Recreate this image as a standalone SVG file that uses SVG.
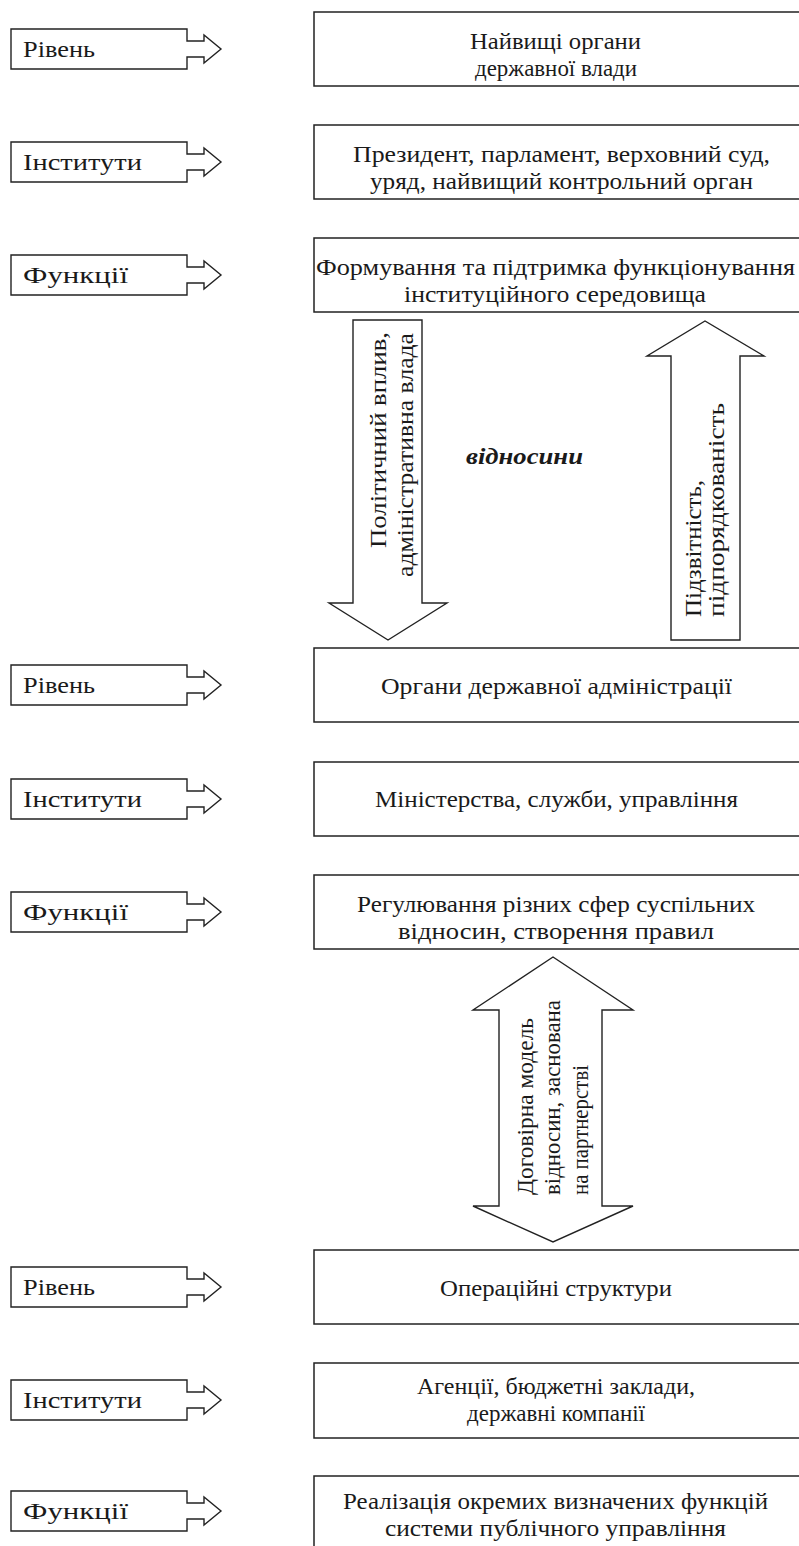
<svg xmlns="http://www.w3.org/2000/svg" width="799" height="1546" viewBox="0 0 799 1546">
<style>
.bx{fill:#fff;stroke:#222;stroke-width:1.5}
.ar{fill:#fff;stroke:#222;stroke-width:1.4;stroke-linejoin:miter}
.t{font-family:'Liberation Serif','Times New Roman',serif;font-size:23px;fill:#1a1a1a}
.bi{font-weight:bold;font-style:italic}
</style>
<defs>
<path id="lbl" class="ar" d="M11,-20 H187 V-8 H204 V-14 L221,0 L204,14 V8 H187 V20 H11 Z"/>
</defs>
<rect width="799" height="1546" fill="#fff"/>
<g id="connectors">
<path id="arrow-down" class="ar" d="M353,320 H422 V603 H447 L388,640 L329,603 H353 Z"/>
<path id="arrow-up" class="ar" d="M671,640 V356 H647 L705,321 L764,356 H740 V640 Z"/>
<path id="arrow-both" class="ar" d="M553,957 L633,1010 H602 V1206 H633 L553,1242 L473,1206 H499 V1010 H473 Z"/>
<text class="t" transform="translate(386,548) rotate(-90)" textLength="216" lengthAdjust="spacingAndGlyphs">Політичний вплив,</text>
<text class="t" transform="translate(413,577) rotate(-90)" textLength="244" lengthAdjust="spacingAndGlyphs">адміністративна влада</text>
<text class="t" transform="translate(701,617) rotate(-90)" textLength="137" lengthAdjust="spacingAndGlyphs">Підзвітність,</text>
<text class="t" transform="translate(724,617) rotate(-90)" textLength="214" lengthAdjust="spacingAndGlyphs">підпорядкованість</text>
<text class="t" transform="translate(533,1195) rotate(-90)" textLength="177" lengthAdjust="spacingAndGlyphs">Договірна модель</text>
<text class="t" transform="translate(560,1195) rotate(-90)" textLength="195" lengthAdjust="spacingAndGlyphs">відносин, заснована</text>
<text class="t" transform="translate(588,1195) rotate(-90)" textLength="130" lengthAdjust="spacingAndGlyphs">на партнерстві</text>
<text class="t bi" x="466" y="464" textLength="117" lengthAdjust="spacingAndGlyphs">відносини</text>
</g>

<g id="l1"><use href="#lbl" y="49"/><text class="t" x="23" y="57" textLength="72" lengthAdjust="spacingAndGlyphs">Рівень</text></g>
<g id="n1"><rect class="bx" x="314" y="12" width="490" height="74"/><text class="t" x="470" y="49" textLength="171" lengthAdjust="spacingAndGlyphs">Найвищі органи</text><text class="t" x="475" y="76" textLength="162" lengthAdjust="spacingAndGlyphs">державної влади</text></g>

<g id="l2"><use href="#lbl" y="162"/><text class="t" x="23" y="170" textLength="119" lengthAdjust="spacingAndGlyphs">Інститути</text></g>
<g id="n2"><rect class="bx" x="314" y="125" width="490" height="74"/><text class="t" x="353" y="162" textLength="417" lengthAdjust="spacingAndGlyphs">Президент, парламент, верховний суд,</text><text class="t" x="370" y="189" textLength="383" lengthAdjust="spacingAndGlyphs">уряд, найвищий контрольний орган</text></g>

<g id="l3"><use href="#lbl" y="275"/><text class="t" x="23" y="283" textLength="105" lengthAdjust="spacingAndGlyphs">Функції</text></g>
<g id="n3"><rect class="bx" x="314" y="238" width="490" height="74"/><text class="t" x="316" y="275" textLength="479" lengthAdjust="spacingAndGlyphs">Формування та підтримка функціонування</text><text class="t" x="404" y="302" textLength="302" lengthAdjust="spacingAndGlyphs">інституційного середовища</text></g>

<g id="l4"><use href="#lbl" y="685"/><text class="t" x="23" y="693" textLength="72" lengthAdjust="spacingAndGlyphs">Рівень</text></g>
<g id="n4"><rect class="bx" x="314" y="648" width="490" height="74"/><text class="t" x="381" y="694" textLength="351" lengthAdjust="spacingAndGlyphs">Органи державної адміністрації</text></g>

<g id="l5"><use href="#lbl" y="799"/><text class="t" x="23" y="807" textLength="119" lengthAdjust="spacingAndGlyphs">Інститути</text></g>
<g id="n5"><rect class="bx" x="314" y="762" width="490" height="74"/><text class="t" x="375" y="807" textLength="363" lengthAdjust="spacingAndGlyphs">Міністерства, служби, управління</text></g>

<g id="l6"><use href="#lbl" y="912"/><text class="t" x="23" y="920" textLength="105" lengthAdjust="spacingAndGlyphs">Функції</text></g>
<g id="n6"><rect class="bx" x="314" y="875" width="490" height="74"/><text class="t" x="357" y="912" textLength="398" lengthAdjust="spacingAndGlyphs">Регулювання різних сфер суспільних</text><text class="t" x="398" y="939" textLength="316" lengthAdjust="spacingAndGlyphs">відносин, створення правил</text></g>

<g id="l7"><use href="#lbl" y="1287"/><text class="t" x="23" y="1295" textLength="72" lengthAdjust="spacingAndGlyphs">Рівень</text></g>
<g id="n7"><rect class="bx" x="314" y="1250" width="490" height="74"/><text class="t" x="440" y="1296" textLength="232" lengthAdjust="spacingAndGlyphs">Операційні структури</text></g>

<g id="l8"><use href="#lbl" y="1400"/><text class="t" x="23" y="1408" textLength="119" lengthAdjust="spacingAndGlyphs">Інститути</text></g>
<g id="n8"><rect class="bx" x="314" y="1363" width="490" height="75"/><text class="t" x="417" y="1394" textLength="278" lengthAdjust="spacingAndGlyphs">Агенції, бюджетні заклади,</text><text class="t" x="467" y="1421" textLength="178" lengthAdjust="spacingAndGlyphs">державні компанії</text></g>

<g id="l9"><use href="#lbl" y="1511"/><text class="t" x="23" y="1519" textLength="105" lengthAdjust="spacingAndGlyphs">Функції</text></g>
<g id="n9"><rect class="bx" x="314" y="1476" width="490" height="90"/><text class="t" x="343" y="1509" textLength="425" lengthAdjust="spacingAndGlyphs">Реалізація окремих визначених функцій</text><text class="t" x="385" y="1536" textLength="341" lengthAdjust="spacingAndGlyphs">системи публічного управління</text></g>
</svg>
